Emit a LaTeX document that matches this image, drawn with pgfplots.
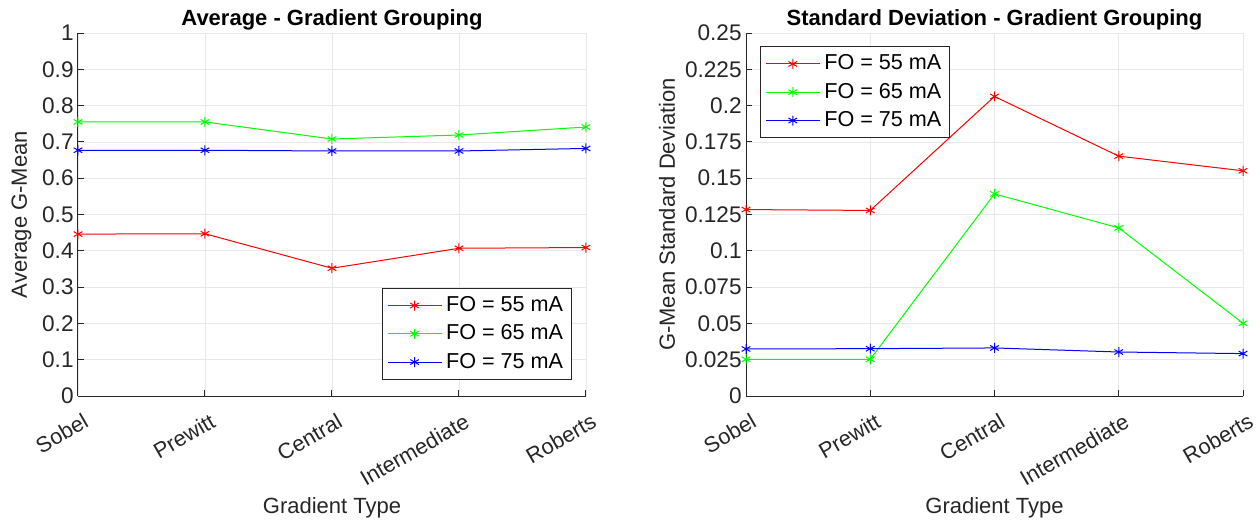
\documentclass[border=0pt]{standalone}
\usepackage{fontspec}
\setmainfont{Liberation Sans}
\usepackage{pgfplots}
\pgfplotsset{compat=1.18}
\definecolor{axgray}{gray}{0.15}
\definecolor{mred}{rgb}{1,0,0}
\definecolor{mgreen}{rgb}{0,1,0}
\definecolor{mblue}{rgb}{0,0,1}

\pgfplotsset{
  mlab/.style={
    width=254pt, height=181.5pt, scale only axis,
    xmin=1, xmax=5,
    xtick={1,2,3,4,5},
    xticklabels={Sobel,Prewitt,Central,Intermediate,Roberts},
    axis x line*=bottom, axis y line*=left,
    axis line style={axgray, line width=0.5pt},
    tick style={axgray, line width=0.5pt},
    tick align=inside,
    major tick length=3pt,
    grid=major,
    major grid style={gray!18, line width=0.4pt},
    every tick label/.append style={font=\fontsize{11.3}{13}\selectfont, text=axgray},
    y tick label style={inner sep=0pt, xshift=-2pt},
    x tick label style={rotate=30, anchor=north east, inner sep=0pt, yshift=-8pt, xshift=-2.3pt,
      font=\fontsize{10.9}{13}\selectfont},
    /pgf/number format/assume math mode=true,
    label style={font=\fontsize{11}{13}\selectfont, text=axgray},
    xlabel style={at={(axis description cs:0.5,0)}, anchor=base, yshift=-58.5pt},
    ylabel style={at={(axis description cs:0,0.5)}, anchor=center},
    title style={font=\fontsize{11}{13}\selectfont\bfseries,
      at={(axis description cs:0.5,1)}, anchor=base, yshift=-2pt},
    legend style={font=\fontsize{10.8}{13}\selectfont, draw=axgray, line width=0.5pt,
      row sep=1.1pt, inner sep=2.2pt},
    legend cell align=left,
    legend image code/.code={
      \draw[mark repeat=2, mark phase=2] plot coordinates {(0pt,0pt) (13.5pt,0pt) (27pt,0pt)};
    },
    every axis plot/.append style={line width=0.5pt, mark=asterisk, mark size=2.5pt},
    xlabel={Gradient Type},
  }
}

\begin{document}
\begin{tikzpicture}
\path[use as bounding box] (-39pt,-62.5pt) rectangle (591pt,198pt);
\begin{axis}[mlab,
  at={(0,0)},
  ymin=0, ymax=1,
  ytick={0,0.1,...,1.01},
  yticklabels={0,0.1,0.2,0.3,0.4,0.5,0.6,0.7,0.8,0.9,1},
  ylabel={Average G-Mean},
  ylabel style={yshift=28.3pt},
  title={Average - Gradient Grouping},
  legend style={at={(1,0)}, anchor=south east, xshift=-7pt, yshift=8pt},
]
\addplot[mred] coordinates {(1,0.446) (2,0.447) (3,0.352) (4,0.407) (5,0.409)};
\addplot[mgreen] coordinates {(1,0.755) (2,0.755) (3,0.708) (4,0.719) (5,0.741)};
\addplot[mblue] coordinates {(1,0.677) (2,0.677) (3,0.675) (4,0.675) (5,0.682)};
\legend{FO = 55 mA, FO = 65 mA, FO = 75 mA}
\end{axis}

\begin{axis}[mlab,
  at={(334pt,0)},
  width=248.5pt,
  ymin=0, ymax=0.25,
  ytick={0,0.025,0.05,0.075,0.1,0.125,0.15,0.175,0.2,0.225,0.25},
  yticklabels={0,0.025,0.05,0.075,0.1,0.125,0.15,0.175,0.2,0.225,0.25},
  ylabel={G-Mean Standard Deviation},
  ylabel style={yshift=39.5pt},
  title={Standard Deviation - Gradient Grouping},
  legend style={at={(0,1)}, anchor=north west, xshift=7.2pt, yshift=-6.5pt},
]
\addplot[mred] coordinates {(1,0.1284) (2,0.1278) (3,0.2063) (4,0.1652) (5,0.1551)};
\addplot[mgreen] coordinates {(1,0.0253) (2,0.0253) (3,0.1392) (4,0.1158) (5,0.0501)};
\addplot[mblue] coordinates {(1,0.0324) (2,0.0326) (3,0.0331) (4,0.0303) (5,0.0292)};
\legend{FO = 55 mA, FO = 65 mA, FO = 75 mA}
\end{axis}
\end{tikzpicture}
\end{document}
